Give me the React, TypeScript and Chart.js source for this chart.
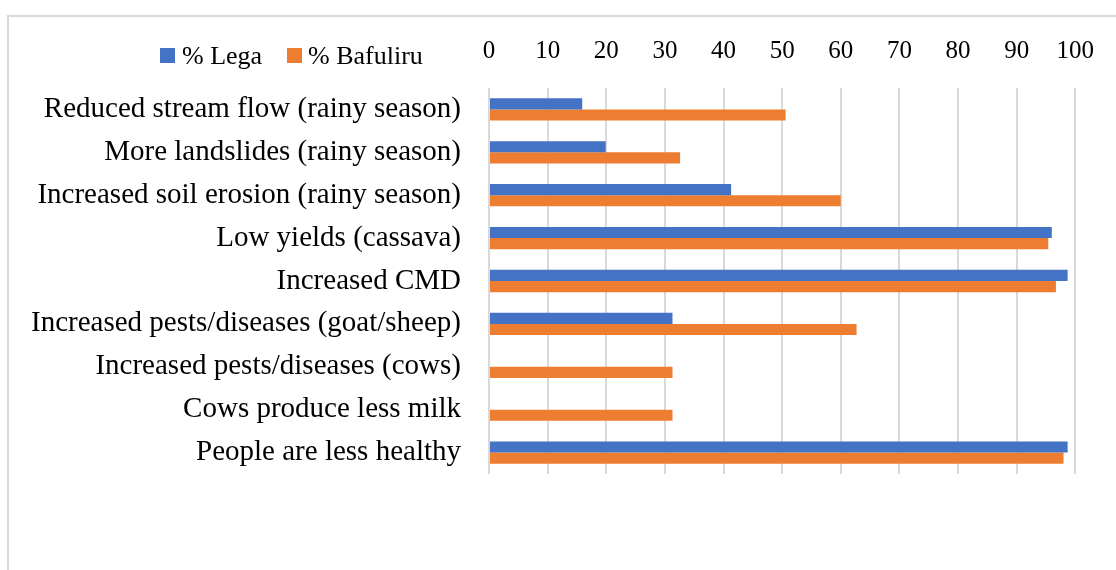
import React, { useEffect, useRef } from "react";
import { Chart, registerables } from "chart.js";

Chart.register(...registerables);

const categories = [
  "Reduced stream flow (rainy season)",
  "More landslides (rainy season)",
  "Increased soil erosion (rainy season)",
  "Low yields (cassava)",
  "Increased CMD",
  "Increased pests/diseases (goat/sheep)",
  "Increased pests/diseases (cows)",
  "Cows produce less milk",
  "People are less healthy",
];

const seriesNames = ["% Lega", "% Bafuliru"];
const legaValues = [15.9, 19.9, 41.3, 96.0, 98.7, 31.3, 0, 0, 98.7];
const bafuliruValues = [50.6, 32.6, 60.0, 95.4, 96.7, 62.7, 31.3, 31.3, 98.0];
const xMin = 0;
const xMax = 100;
const xStep = 10;

const BLUE = "#4472C4";
const ORANGE = "#ED7D31";
const FONT = "'Liberation Serif', 'Times New Roman', serif";

export default function App() {
  const canvasRef = useRef<HTMLCanvasElement | null>(null);

  useEffect(() => {
    const canvas = canvasRef.current;
    if (!canvas) return;
    const chart = new Chart(canvas, {
      type: "bar",
      data: {
        labels: categories,
        datasets: [
          {
            label: seriesNames[0],
            data: legaValues,
            backgroundColor: BLUE,
            borderWidth: 0,
            categoryPercentage: 0.52,
            barPercentage: 1,
          },
          {
            label: seriesNames[1],
            data: bafuliruValues,
            backgroundColor: ORANGE,
            borderWidth: 0,
            categoryPercentage: 0.52,
            barPercentage: 1,
          },
        ],
      },
      options: {
        indexAxis: "y",
        responsive: false,
        animation: false,
        layout: { padding: { left: 0, top: 0, right: 39, bottom: 96 } },
        plugins: {
          legend: { display: false },
          tooltip: { enabled: false },
        },
        scales: {
          x: {
            position: "top",
            min: xMin,
            max: xMax,
            ticks: {
              stepSize: xStep,
              color: "#000",
              font: { family: FONT, size: 25 },
              padding: 22,
            },
            grid: {
              color: "#d9d9d9",
              lineWidth: 2,
              drawTicks: false,
            },
            border: { display: false },
            afterFit: (scale: any) => {
              scale.height = 88;
            },
          },
          y: {
            ticks: {
              color: "#000",
              font: { family: FONT, size: 29 },
              padding: 28,
              autoSkip: false,
            },
            grid: { display: false, drawTicks: false },
            border: { display: false },
            afterFit: (scale: any) => {
              scale.width = 489;
            },
          },
        },
      },
    });
    return () => chart.destroy();
  }, []);

  const legendText: React.CSSProperties = {
    position: "absolute",
    fontFamily: FONT,
    fontSize: 26,
    lineHeight: "26px",
    color: "#000",
    whiteSpace: "nowrap",
  };

  return (
    <div
      style={{
        position: "fixed",
        left: 0,
        top: 0,
        width: 1116,
        height: 570,
        overflow: "hidden",
        background: "#fff",
      }}
    >
      <div
        style={{
          position: "absolute",
          left: 7,
          top: 15,
          width: 1300,
          height: 800,
          border: "2px solid #d9d9d9",
          boxSizing: "border-box",
        }}
      />
      <canvas
        ref={canvasRef}
        width={1116}
        height={570}
        style={{ position: "absolute", left: 0, top: 0, width: 1116, height: 570 }}
      />
      <div style={{ position: "absolute", left: 160, top: 48, width: 15, height: 15, background: BLUE }} />
      <div style={{ ...legendText, left: 182, top: 43 }}>{seriesNames[0]}</div>
      <div style={{ position: "absolute", left: 287, top: 48, width: 15, height: 15, background: ORANGE }} />
      <div style={{ ...legendText, left: 308, top: 43 }}>{seriesNames[1]}</div>
    </div>
  );
}
